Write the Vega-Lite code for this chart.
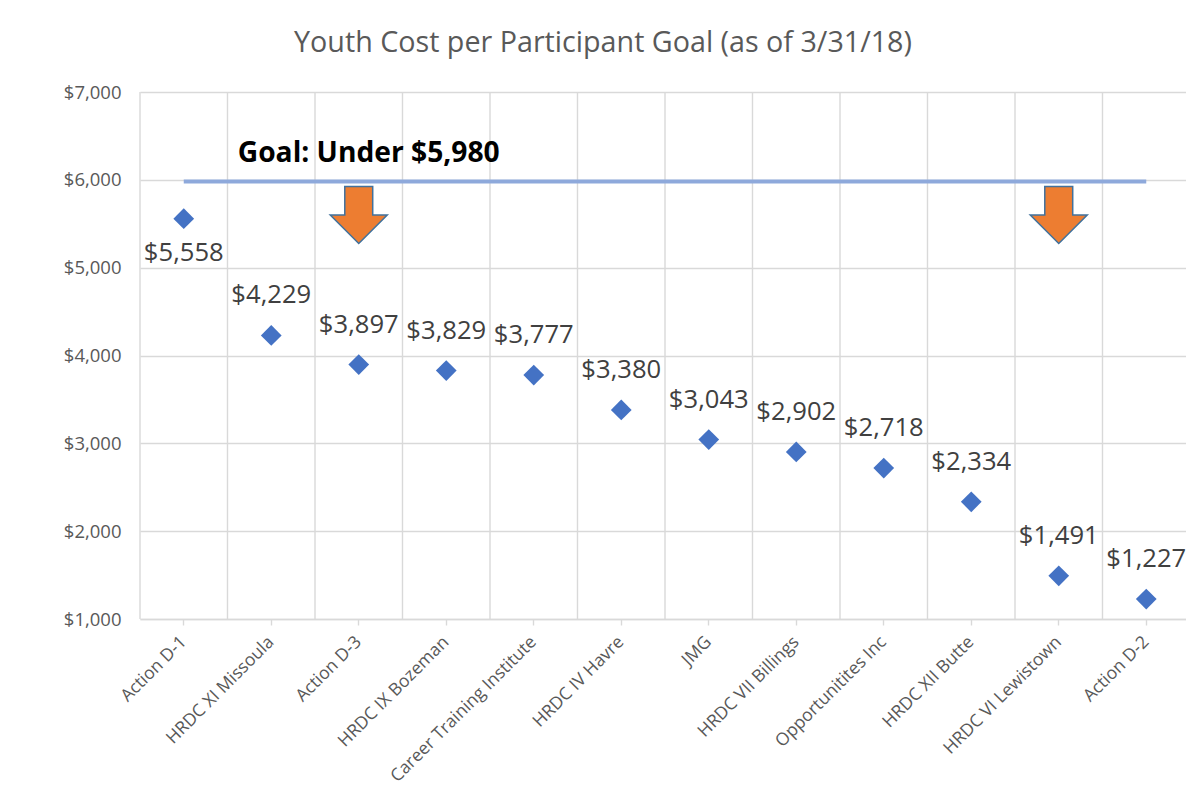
{
  "$schema": "https://vega.github.io/schema/vega-lite/v6.json",
  "autosize": {"type": "none"},
  "padding": {"left": 140, "top": 92, "right": 0, "bottom": 190},
  "width": 1050,
  "height": 527,
  "background": "white",
  "config": {"view": {"stroke": null}, "font": "Open Sans"},
  "title": {
    "text": "Youth Cost per Participant Goal (as of 3/31/18)",
    "fontSize": 28.7,
    "font": "Open Sans",
    "fontWeight": "normal",
    "color": "#595959",
    "anchor": "middle",
    "frame": "group",
    "dx": -62,
    "baseline": "alphabetic",
    "offset": 2
  },
  "datasets": {
    "main": [
      {"name": "Action D-1", "value": 5558},
      {"name": "HRDC XI Missoula", "value": 4229},
      {"name": "Action D-3", "value": 3897},
      {"name": "HRDC IX Bozeman", "value": 3829},
      {"name": "Career Training Institute", "value": 3777},
      {"name": "HRDC IV Havre", "value": 3380},
      {"name": "JMG", "value": 3043},
      {"name": "HRDC VII Billings", "value": 2902},
      {"name": "Opportunitites Inc", "value": 2718},
      {"name": "HRDC XII Butte", "value": 2334},
      {"name": "HRDC VI Lewistown", "value": 1491},
      {"name": "Action D-2", "value": 1227}
    ],
    "goal": [
      {"start": "Action D-1", "end": "Action D-2", "value": 5980, "label": "Goal:  Under $5,980"}
    ],
    "arrows": [
      {"name": "Action D-3", "value": 5600},
      {"name": "HRDC VI Lewistown", "value": 5600}
    ]
  },
  "layer": [
    {
      "data": {"name": "main"},
      "mark": {"type": "rule", "color": "#d9d9d9", "strokeWidth": 1.4},
      "encoding": {
        "x": {
          "field": "name",
          "type": "nominal",
          "bandPosition": 0,
          "sort": null,
          "scale": {"domain": ["Action D-1", "HRDC XI Missoula", "Action D-3", "HRDC IX Bozeman", "Career Training Institute", "HRDC IV Havre", "JMG", "HRDC VII Billings", "Opportunitites Inc", "HRDC XII Butte", "HRDC VI Lewistown", "Action D-2"], "paddingInner": 0, "paddingOuter": 0},
          "axis": {
            "title": null,
            "grid": false,
            "domain": true,
            "domainColor": "#d9d9d9",
            "domainWidth": 1.6,
            "ticks": true,
            "tickColor": "#d9d9d9",
            "tickSize": 6,
            "tickWidth": 1.4,
            "labelAngle": -45,
            "labelAlign": "right",
            "labelBaseline": "middle",
            "labelFontSize": 17.5,
            "labelColor": "#595959",
            "labelFont": "Open Sans",
            "labelPadding": 14,
            "labelLimit": 500,
            "labelOverlap": false
          }
        },
        "y": {
          "datum": 7000,
          "type": "quantitative",
          "scale": {"domain": [1000, 7000], "nice": false},
          "axis": {
            "title": null,
            "values": [1000, 2000, 3000, 4000, 5000, 6000, 7000],
            "format": "$,.0f",
            "domain": false,
            "ticks": false,
            "grid": true,
            "gridColor": "#d9d9d9",
            "gridWidth": 1.4,
            "labelFontSize": 18.5,
            "labelColor": "#595959",
            "labelFont": "Open Sans",
            "labelPadding": 19
          }
        },
        "y2": {"datum": 1000}
      }
    },
    {
      "data": {"name": "goal"},
      "mark": {"type": "rule", "color": "#8EA9DB", "strokeWidth": 4},
      "encoding": {
        "x": {"field": "start", "type": "nominal"},
        "x2": {"field": "end"},
        "y": {"field": "value", "type": "quantitative"}
      }
    },
    {
      "data": {"name": "goal"},
      "mark": {"type": "text", "align": "left", "baseline": "alphabetic", "dx": 54, "dy": -20, "fontSize": 28.2, "fontWeight": "bold", "color": "#000000", "font": "Open Sans"},
      "encoding": {
        "x": {"field": "start", "type": "nominal"},
        "y": {"field": "value", "type": "quantitative"},
        "text": {"field": "label"}
      }
    },
    {
      "data": {"name": "arrows"},
      "mark": {"type": "point", "shape": "M-0.49,-1L0.49,-1L0.49,0L1,0L0,1L-1,0L-0.49,0Z", "filled": true, "fill": "#ED7D31", "stroke": "#41719C", "strokeWidth": 1.5, "opacity": 1, "size": 3249, "dx": -4},
      "encoding": {
        "x": {"field": "name", "type": "nominal"},
        "y": {"field": "value", "type": "quantitative"}
      }
    },
    {
      "data": {"name": "main"},
      "mark": {"type": "point", "shape": "diamond", "filled": true, "color": "#4472C4", "opacity": 1, "size": 430},
      "encoding": {
        "x": {"field": "name", "type": "nominal"},
        "y": {"field": "value", "type": "quantitative"}
      }
    },
    {
      "data": {"name": "main"},
      "transform": [{"filter": "datum.name === 'Action D-1'"}],
      "mark": {"type": "text", "baseline": "middle", "dy": 34, "fontSize": 25.6, "color": "#404040", "font": "Open Sans"},
      "encoding": {
        "x": {"field": "name", "type": "nominal"},
        "y": {"field": "value", "type": "quantitative"},
        "text": {"field": "value", "type": "quantitative", "format": "$,.0f"}
      }
    },
    {
      "data": {"name": "main"},
      "transform": [{"filter": "datum.name !== 'Action D-1'"}],
      "mark": {"type": "text", "baseline": "middle", "dy": -40, "fontSize": 25.6, "color": "#404040", "font": "Open Sans"},
      "encoding": {
        "x": {"field": "name", "type": "nominal"},
        "y": {"field": "value", "type": "quantitative"},
        "text": {"field": "value", "type": "quantitative", "format": "$,.0f"}
      }
    }
  ]
}
